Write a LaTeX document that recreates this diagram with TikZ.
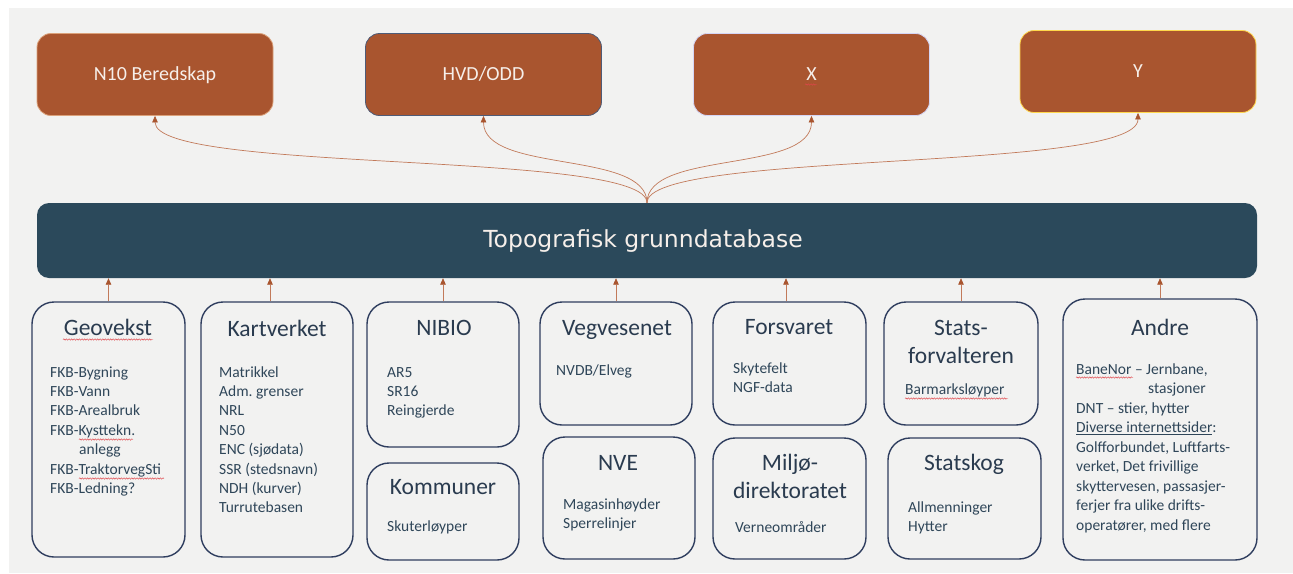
\documentclass[tikz,border=0pt]{standalone}
\usepackage{fontspec}
\setmainfont{Carlito}
\newfontfamily\dejavu{DejaVu Sans}
\usetikzlibrary{arrows.meta,decorations.pathmorphing}
\frenchspacing
\definecolor{bgc}{HTML}{F2F2F1}
\definecolor{brownc}{HTML}{A9552F}
\definecolor{barc}{HTML}{2B495B}
\definecolor{navyc}{HTML}{2F3E5F}
\definecolor{titlec}{HTML}{2A3B4F}
\definecolor{bodyc}{HTML}{2F4659}
\definecolor{linec}{HTML}{C27A5A}
\definecolor{tipc}{HTML}{A9552F}
\definecolor{topt}{HTML}{F6EFEA}
\definecolor{sqc}{HTML}{E0454A}
\newcommand{\bodylines}[1]{\fontsize{15.5}{19.4}\selectfont\renewcommand\arraystretch{1}\begin{tabular}[t]{@{}l@{}}#1\end{tabular}}
\newcommand{\titlelines}[1]{\fontsize{23.5}{28}\selectfont\renewcommand\arraystretch{1}\begin{tabular}[t]{@{}c@{}}#1\end{tabular}}
\begin{document}
\begin{tikzpicture}[x=1pt,y=-1pt,
  topbox/.style={rounded corners=14pt, fill=brownc, minimum width=236pt, minimum height=82pt,
    font=\fontsize{20}{24}\selectfont, text=topt, line width=0.8pt, text height=15pt, text depth=3pt},
  barbox/.style={fill=barc, rounded corners=12pt, minimum width=1220pt, minimum height=75pt, inner sep=0pt},
  srcbox/.style={draw=navyc, line width=1.4pt, rounded corners=22pt, fill=bgc, inner sep=0pt},
  ttl/.style={anchor=base, inner sep=0pt, text=titlec},
  body/.style={anchor=base west, inner sep=0pt, text=bodyc},
  curve/.style={draw=linec, line width=0.7pt, -{Triangle[width=5.5pt,length=6.5pt,color=tipc]}},
  squig/.style={draw=sqc, line width=0.45pt, decorate, decoration={snake, amplitude=0.7pt, segment length=2.6pt}}
]
\useasboundingbox (0,0) rectangle (1293,573);
\fill[white] (0,0) rectangle (1293,573);
\fill[bgc] (9,8) rectangle (1293,573);

% top targets
\node[topbox, draw=brownc!70!orange!60] (n10) at (155,74.5) {N10 Beredskap};
\node[topbox, draw=navyc!85] (hvd) at (483.5,74.5) {HVD/ODD};
\node[topbox, draw=gray!35!blue!20] (xx) at (811.5,74.5) {X};
\node[topbox, draw=orange!45!yellow!70] (yy) at (1138,71.5) {Y};

% main bar
\node[barbox] (tgd) at (647,240.5) {};
\node[anchor=base, inner sep=0pt, text=topt, font=\dejavu\fontsize{23.5}{28}\selectfont] (tgdl) at (643,247) {Topografisk grunndatabase};

% curves to targets
\draw[curve] (tgd.north) .. controls +(0,-53) and +(0,58) .. (n10.south);
\draw[curve] (tgd.north) .. controls +(0,-53) and +(0,58) .. (hvd.south);
\draw[curve] (tgd.north) .. controls +(0,-53) and +(0,58) .. (xx.south);
\draw[curve] (tgd.north) .. controls +(0,-53) and +(0,60) .. (yy.south);

% source boxes
\node[srcbox, minimum width=153pt, minimum height=255pt] (geo) at (108.5,429.5) {};
\node[srcbox, minimum width=152pt, minimum height=255pt] (kart) at (277,429.5) {};
\node[srcbox, minimum width=152pt, minimum height=145pt] (nibio) at (443,374.5) {};
\node[srcbox, minimum width=152pt, minimum height=97pt] (komm) at (443,511.5) {};
\node[srcbox, minimum width=152pt, minimum height=123pt] (veg) at (616,363.5) {};
\node[srcbox, minimum width=152pt, minimum height=122pt] (nve) at (619,498) {};
\node[srcbox, minimum width=153pt, minimum height=123pt] (fors) at (789.5,363.5) {};
\node[srcbox, minimum width=154pt, minimum height=123pt] (stats) at (961,363.5) {};
\node[srcbox, minimum width=153pt, minimum height=121pt] (milj) at (789.5,498.5) {};
\node[srcbox, minimum width=153pt, minimum height=121pt] (skog) at (964.5,498.5) {};
\node[srcbox, minimum width=194pt, minimum height=261pt] (andre) at (1160,429.5) {};

% arrows into bar
\draw[curve] (geo.north) -- (geo.north |- tgd.south);
\draw[curve] ([xshift=-7pt]kart.north) -- ([xshift=-7pt]kart.north |- tgd.south);
\draw[curve] (nibio.north) -- (nibio.north |- tgd.south);
\draw[curve] (veg.north) -- (veg.north |- tgd.south);
\draw[curve] ([xshift=-3.5pt]fors.north) -- ([xshift=-3.5pt]fors.north |- tgd.south);
\draw[curve] (stats.north) -- (stats.north |- tgd.south);
\draw[curve] (andre.north) -- (andre.north |- tgd.south);

% titles
\node[ttl] (geot) at (108,335.7) {\titlelines{Geovekst}};
\node[ttl] (kartt) at (277,336) {\titlelines{Kartverket}};
\node[ttl] (nibiot) at (444,335) {\titlelines{NIBIO}};
\node[ttl] (vegt) at (617,335) {\titlelines{Vegvesenet}};
\node[ttl] (kommt) at (443,494) {\titlelines{Kommuner}};
\node[ttl] (nvet) at (618,470) {\titlelines{NVE}};
\node[ttl] (forst) at (789,334) {\titlelines{Forsvaret}};
\node[ttl] (statst) at (961,335) {\titlelines{Stats-\\forvalteren}};
\node[ttl] (miljt) at (790,470) {\titlelines{Miljø-\\direktoratet}};
\node[ttl] (skogt) at (964,470) {\titlelines{Statskog}};
\node[ttl] (andret) at (1160,335) {\titlelines{Andre}};

% bodies
\node[body] (geob) at (50,377) {\bodylines{FKB-Bygning\\FKB-Vann\\FKB-Arealbruk\\FKB-Kysttekn.\\\hspace*{29pt}anlegg\\FKB-TraktorvegSti\\FKB-Ledning?}};
\node[body] (kartb) at (219,377) {\bodylines{Matrikkel\\Adm. grenser\\NRL\\N50\\ENC (sjødata)\\SSR (stedsnavn)\\NDH (kurver)\\Turrutebasen}};
\node[body] (nibiob) at (387,377) {\bodylines{AR5\\SR16\\Reingjerde}};
\node[body] (vegb) at (556,375) {\bodylines{NVDB/Elveg}};
\node[body] (kommb) at (387,531) {\bodylines{Skuterløyper}};
\node[body] (nveb) at (563,509) {\bodylines{Magasinhøyder\\Sperrelinjer}};
\node[body] (forsb) at (733,373) {\bodylines{Skytefelt\\NGF-data}};
\node[body] (statsb) at (905,394) {\bodylines{Barmarksløyper}};
\node[body] (miljb) at (735,532) {\bodylines{Verneområder}};
\node[body] (skogb) at (908,512) {\bodylines{Allmenninger\\Hytter}};
\node[body] (andreb) at (1076,374) {\fontsize{15.5}{19.5}\selectfont\renewcommand\arraystretch{1}\begin{tabular}[t]{@{}l@{}}BaneNor – Jernbane,\\\hspace*{72pt}stasjoner\\DNT – stier, hytter\\\underline{Diverse internettsider}:\\Golfforbundet, Luftfarts-\\verket, Det frivillige\\skyttervesen, passasjer-\\ferjer fra ulike drifts-\\operatører, med flere\end{tabular}};

% spell-check squiggles
\draw[squig] (63,339.5) -- (153,339.5);
\draw[squig] (79,439.5) -- (133,439.5);
\draw[squig] (79,478.5) -- (164,478.5);
\draw[squig] (905,398.5) -- (1008,398.5);
\draw[squig] (1076,377.5) -- (1133,377.5);
\draw[squig] (805,84.5) -- (817,84.5);
\end{tikzpicture}
\end{document}
